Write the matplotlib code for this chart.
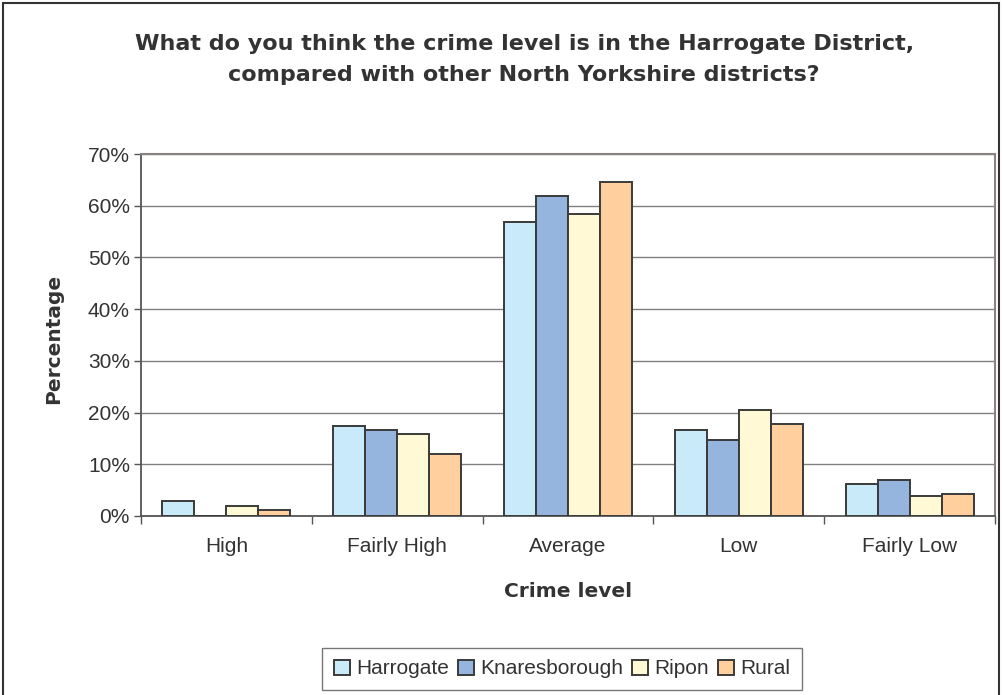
import numpy as np
import matplotlib.pyplot as plt
from matplotlib.patches import Rectangle
from matplotlib.ticker import FixedLocator, PercentFormatter

plt.rcParams['font.family'] = ['Liberation Sans', 'DejaVu Sans']

categories = ['High', 'Fairly High', 'Average', 'Low', 'Fairly Low']
series = ['Harrogate', 'Knaresborough', 'Ripon', 'Rural']
harrogate = [2.8, 17.4, 56.9, 16.6, 6.2]
knaresborough = [0.0, 16.6, 61.9, 14.7, 6.9]
ripon = [1.9, 15.8, 58.4, 20.5, 3.9]
rural = [1.2, 12.0, 64.6, 17.8, 4.3]
colors = ['#C8EAF9', '#95B4DE', '#FFF9D5', '#FFCF9D']

fig = plt.figure(figsize=(10.03, 6.95), dpi=100)
ax = fig.add_axes([0.1406, 0.2576, 0.8514, 0.5208])

# outer chart frame
fig.patches.append(Rectangle((3/1003, -0.1), 996/1003, 1 - 3/695 + 0.1,
                             transform=fig.transFigure, fill=False,
                             edgecolor='#333333', linewidth=1.5))

x = np.arange(len(categories))
w = 0.1875
for i, (vals, name) in enumerate(zip([harrogate, knaresborough, ripon, rural], series)):
    ax.bar(x + (i - 1.5) * w, vals, w, color=colors[i], edgecolor='#3a3a3a',
           linewidth=1.4, label=name, zorder=3)

ax.set_xlim(-0.5, len(categories) - 0.5)
ax.set_ylim(0, 70)
ax.set_yticks(np.arange(0, 71, 10))
ax.yaxis.set_major_formatter(PercentFormatter(decimals=0))
ax.grid(axis='y', color='#808080', linewidth=1.0, zorder=0)

ax.xaxis.set_major_locator(FixedLocator(np.arange(-0.5, len(categories), 1)))
ax.xaxis.set_minor_locator(FixedLocator(x))
ax.set_xticklabels([], minor=False)
ax.set_xticklabels(categories, minor=True)
ax.tick_params(axis='x', which='major', length=6, color='#555555', width=1)
ax.tick_params(axis='x', which='minor', length=0, pad=15, labelsize=15, labelcolor='#333333')
ax.tick_params(axis='y', length=5, color='#555555', width=1, labelsize=15, labelcolor='#333333', pad=3)

for s in ['top', 'right']:
    ax.spines[s].set_color('#8a8280')
    ax.spines[s].set_linewidth(1.5)
for s in ['left', 'bottom']:
    ax.spines[s].set_color('#555555')
    ax.spines[s].set_linewidth(1.3)

bold = ['DejaVu Sans']
ax.set_ylabel('Percentage', fontsize=14.5, fontweight='bold', color='#333333', family=bold)
ax.yaxis.set_label_coords(-0.0915, 0.488)
ax.set_xlabel('Crime level', fontsize=14.5, fontweight='bold', color='#333333',
              labelpad=19, family=bold)

fig.text(0.5225, 1 - 59.5/695, 'What do you think the crime level is in the Harrogate District,\n'
         'compared with other North Yorkshire districts?',
         ha='center', va='center', fontsize=16, fontweight='bold', color='#333333',
         linespacing=1.7, family=bold)

leg = fig.legend(loc='center', bbox_to_anchor=(562/1003, 1 - 669/695), ncol=4,
                 fontsize=15, frameon=True, fancybox=False, edgecolor='#555555',
                 handlelength=0.75, handleheight=0.75, handletextpad=0.3, columnspacing=0.45,
                 borderpad=0.55)
for t in leg.get_texts():
    t.set_color('#333333')
leg.get_frame().set_linewidth(1.0)

fig.savefig('out.png', dpi=100)
